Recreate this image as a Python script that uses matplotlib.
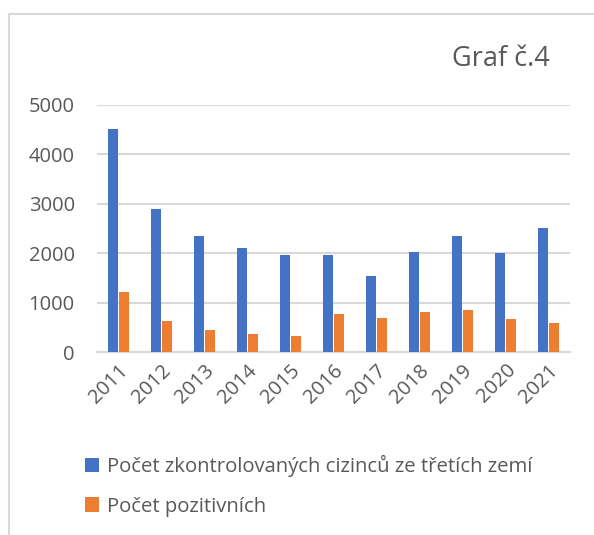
import matplotlib
matplotlib.use("Agg")
import matplotlib.pyplot as plt
from matplotlib.patches import Patch
from matplotlib.lines import Line2D
import numpy as np

years = ["2011", "2012", "2013", "2014", "2015", "2016", "2017", "2018", "2019", "2020", "2021"]
kontrolovani = [4510, 2900, 2345, 2110, 1965, 1965, 1540, 2030, 2350, 1995, 2515]
pozitivni = [1215, 620, 445, 360, 320, 770, 695, 805, 850, 670, 590]
series_names = ["Počet zkontrolovaných cizinců ze třetích zemí", "Počet pozitivních"]
yticks = [0, 1000, 2000, 3000, 4000, 5000]

BLUE = "#4472C4"
ORANGE = "#ED7D31"
TXT = "#595959"
GRID = "#D9D9D9"
plt.rcParams['font.family'] = ['Open Sans', 'DejaVu Sans']

fig = plt.figure(figsize=(5.94, 5.35), dpi=100)
W, H = 594, 535
ax = fig.add_axes([97 / W, 1 - 352 / H, 473 / W, 247 / H])

x = np.arange(len(years))
w = 0.23
ax.bar(x - 0.135, kontrolovani, width=w, color=BLUE, zorder=3)
ax.bar(x + 0.135, pozitivni, width=w, color=ORANGE, zorder=3)

ax.set_xlim(-0.5, len(years) - 0.5)
ax.set_ylim(0, 5000)
ax.set_yticks(yticks)
ax.set_yticklabels([str(t) for t in yticks], fontsize=14.5, color=TXT)
ax.set_xticks(x)
ax.set_xticklabels(years, rotation=45, ha='right', rotation_mode='anchor', fontsize=14.5, color=TXT)
ax.tick_params(axis='both', length=0)
ax.tick_params(axis='y', pad=16)
ax.tick_params(axis='x', pad=6)
ax.grid(axis='y', color=GRID, linewidth=1.5, zorder=0)
for s in ['top', 'right', 'left']:
    ax.spines[s].set_visible(False)
ax.spines['bottom'].set_color(GRID)
ax.spines['bottom'].set_linewidth(1.5)

fig.text(501 / W, 1 - 59 / H, "Graf č.4", fontsize=19.5, color=TXT, ha='center', va='center')

handles = [Patch(facecolor=BLUE), Patch(facecolor=ORANGE)]
fig.legend(handles, series_names, loc='upper left', bbox_to_anchor=(69 / W, 1 - 439 / H),
           frameon=False, fontsize=14.6, labelcolor=TXT, handlelength=0.7, handleheight=0.7,
           handletextpad=0.35, labelspacing=0.95, borderpad=0.3)

# chart border (partially visible)
fig.add_artist(Line2D([9 / W, 9 / W], [0, 1 - 14 / H], color=GRID, linewidth=1.5))
fig.add_artist(Line2D([9 / W, 1], [1 - 14 / H, 1 - 14 / H], color=GRID, linewidth=1.5))

fig.savefig("out.png", dpi=100)
